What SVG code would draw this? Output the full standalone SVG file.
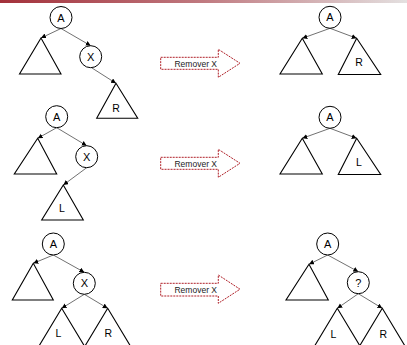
<svg xmlns="http://www.w3.org/2000/svg" width="407" height="345" viewBox="0 0 407 345">
<defs>
<linearGradient id="bar" x1="0" y1="0" x2="1" y2="0">
<stop offset="0" stop-color="#a3303a"/>
<stop offset="0.5" stop-color="#c07a80"/>
<stop offset="1" stop-color="#e4e0e0"/>
</linearGradient>
<marker id="ah" markerUnits="userSpaceOnUse" markerWidth="6" markerHeight="6" refX="5" refY="2.5" orient="auto">
<path d="M0,0 L5,2.5 L0,5 z" fill="#000"/>
</marker>
<style>
.n{fill:#fff;stroke:#000;stroke-width:1}
.t{fill:#fff;stroke:#000;stroke-width:1.1}
.c{stroke:#333;stroke-width:0.7;fill:none;marker-end:url(#ah)}
.lb{font-family:"Liberation Sans",Arial,sans-serif;font-size:11px;text-anchor:middle;fill:#000}
.tl{font-family:"Liberation Sans",Arial,sans-serif;font-size:10.5px;text-anchor:middle;fill:#000}
.ba{fill:#fff;stroke:#b02028;stroke-width:1;stroke-dasharray:2,1}
.bt{font-family:"Liberation Sans",Arial,sans-serif;font-size:8.5px;text-anchor:end;fill:#222}
</style>
</defs>
<rect x="0" y="0" width="407" height="3" fill="url(#bar)"/>

<g id="connectors">
<line class="c" x1="61" y1="28.5" x2="41" y2="38"/>
<line class="c" x1="61" y1="28.5" x2="90.7" y2="45.7"/>
<line class="c" x1="91.5" y1="67.7" x2="116" y2="83.3"/>
<line class="c" x1="56.7" y1="127.7" x2="37.7" y2="138.3"/>
<line class="c" x1="56.7" y1="127.7" x2="86.7" y2="145.7"/>
<line class="c" x1="86.7" y1="167.7" x2="63.3" y2="185"/>
<line class="c" x1="53.3" y1="255" x2="33.3" y2="263.3"/>
<line class="c" x1="53.3" y1="255" x2="84.3" y2="272.3"/>
<line class="c" x1="84.3" y1="294.3" x2="61.7" y2="308.3"/>
<line class="c" x1="84.3" y1="294.3" x2="107.7" y2="308.3"/>
<line class="c" x1="330" y1="28.3" x2="302.3" y2="38.3"/>
<line class="c" x1="330" y1="28.3" x2="356.7" y2="38.3"/>
<line class="c" x1="330" y1="128.3" x2="302.3" y2="138.3"/>
<line class="c" x1="330" y1="128.3" x2="356.7" y2="138.3"/>
<line class="c" x1="327.7" y1="255" x2="309" y2="264.3"/>
<line class="c" x1="327.7" y1="255" x2="358.3" y2="271.7"/>
<line class="c" x1="358.3" y1="293.7" x2="337.3" y2="308.3"/>
<line class="c" x1="358.3" y1="293.7" x2="382.3" y2="308.3"/>
</g>

<!-- Panel 1 left -->
<g id="p1-A"><circle class="n" cx="61" cy="17.5" r="11"/><text class="lb" x="61" y="21.5">A</text></g>
<g id="p1-T"><polygon class="t" points="41,38 19.5,74 61,74"/></g>
<g id="p1-X"><circle class="n" cx="90.7" cy="56.7" r="11"/><text class="lb" x="90.7" y="60.7">X</text></g>
<g id="p1-R"><polygon class="t" points="116,83.3 96.7,118.3 137.7,118.3"/><text class="tl" x="116" y="112">R</text></g>

<!-- Panel 1 arrow -->
<g id="arrow1"><path class="ba" d="M160.7,57.3 H218.3 V49.3 L240,63.3 L218.3,77.3 V69.3 H160.7 Z"/><text class="bt" x="217" y="66.5">Remover X</text></g>

<!-- Panel 1 right -->
<g id="r1-A"><circle class="n" cx="330" cy="17.3" r="11"/><text class="lb" x="330" y="21.3">A</text></g>
<g id="r1-T"><polygon class="t" points="302.3,38.3 280,74 322.3,74"/></g>
<g id="r1-R"><polygon class="t" points="356.7,38.3 338.3,74.5 380.7,74.5"/><text class="tl" x="359" y="65.5">R</text></g>

<!-- Panel 2 left -->
<g id="p2-A"><circle class="n" cx="56.7" cy="116.7" r="11"/><text class="lb" x="56.7" y="120.7">A</text></g>
<g id="p2-T"><polygon class="t" points="37.7,138.3 14.3,174 56.7,174"/></g>
<g id="p2-X"><circle class="n" cx="86.7" cy="156.7" r="11"/><text class="lb" x="86.7" y="160.7">X</text></g>
<g id="p2-L"><polygon class="t" points="63.3,185 41.7,220 83.3,220"/><text class="tl" x="62" y="212">L</text></g>

<g id="arrow2"><path class="ba" d="M160.7,157.3 H218.3 V149.3 L240,163.3 L218.3,177.3 V169.3 H160.7 Z"/><text class="bt" x="217" y="166.5">Remover X</text></g>

<g id="r2-A"><circle class="n" cx="330" cy="117.3" r="11"/><text class="lb" x="330" y="121.3">A</text></g>
<g id="r2-T"><polygon class="t" points="302.3,138.3 280,174 322.3,174"/></g>
<g id="r2-L"><polygon class="t" points="356.7,138.3 338.3,174.5 380.7,174.5"/><text class="tl" x="359" y="166">L</text></g>

<!-- Panel 3 left -->
<g id="p3-A"><circle class="n" cx="53.3" cy="244" r="11"/><text class="lb" x="53.3" y="248">A</text></g>
<g id="p3-T"><polygon class="t" points="33.3,263.3 12.3,300 53.3,300"/></g>
<g id="p3-X"><circle class="n" cx="84.3" cy="283.3" r="11"/><text class="lb" x="84.3" y="287.3">X</text></g>
<g id="p3-L"><polygon class="t" points="61.7,308.3 39,346 84.4,346"/><text class="tl" x="58.5" y="337">L</text></g>
<g id="p3-R"><polygon class="t" points="107.7,308.3 85,346 130.4,346"/><text class="tl" x="108.3" y="337">R</text></g>

<g id="arrow3"><path class="ba" d="M160.7,283.3 H218.3 V275 L240,289.2 L218.3,303.3 V296 H160.7 Z"/><text class="bt" x="217" y="292.8">Remover X</text></g>

<g id="r3-A"><circle class="n" cx="327.7" cy="244" r="11"/><text class="lb" x="327.7" y="248">A</text></g>
<g id="r3-T"><polygon class="t" points="309,264.3 286,300 328.3,300"/></g>
<g id="r3-Q"><circle class="n" cx="358.3" cy="282.7" r="11"/><text class="lb" x="358.3" y="286.7">?</text></g>
<g id="r3-L"><polygon class="t" points="337.3,308.3 314.6,346 360,346"/><text class="tl" x="333.5" y="338">L</text></g>
<g id="r3-R"><polygon class="t" points="382.3,308.3 359.6,346 405,346"/><text class="tl" x="383.3" y="338">R</text></g>
</svg>
